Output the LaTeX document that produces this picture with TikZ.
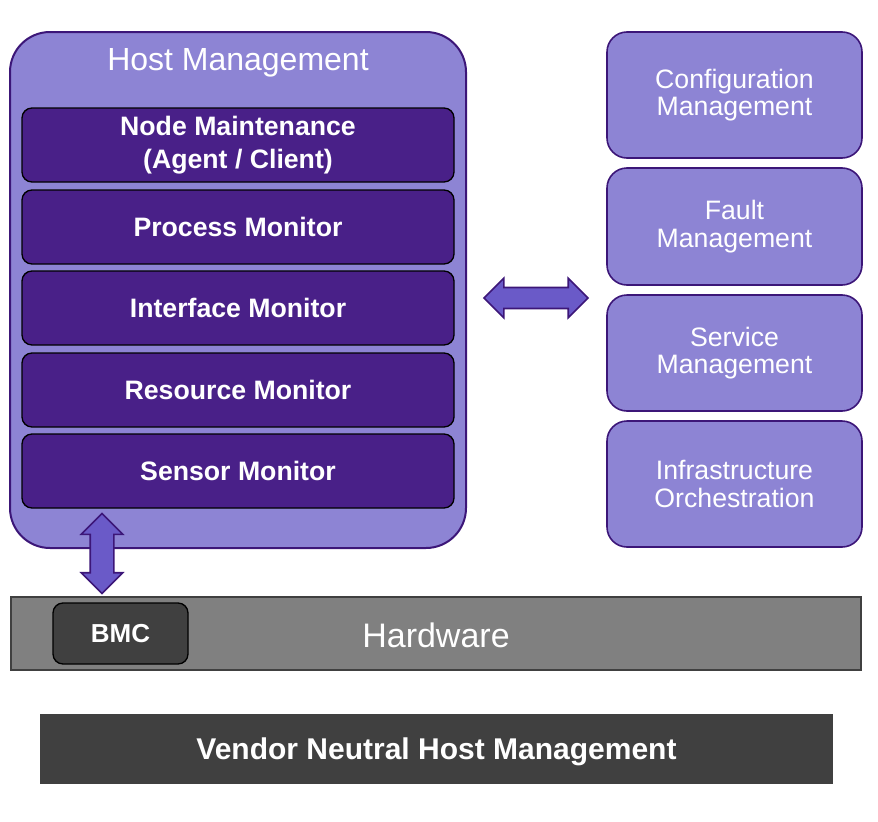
\documentclass[tikz,border=0pt]{standalone}
\usepackage{fontspec}
\setmainfont{Liberation Sans}
\usetikzlibrary{shapes.arrows}
\definecolor{lightpurple}{RGB}{141,132,212}
\definecolor{darkpurple}{RGB}{73,32,136}
\definecolor{edgepurple}{RGB}{60,22,120}
\definecolor{arrowpurple}{RGB}{106,90,200}
\definecolor{hwgrey}{RGB}{128,128,128}
\definecolor{darkgrey}{RGB}{64,64,64}
\begin{document}
\begin{tikzpicture}[x=0.75pt,y=-0.75pt,
  hostbox/.style={draw=edgepurple,line width=1.5pt,fill=lightpurple,rounded corners=30pt,minimum width=342pt,minimum height=387pt,inner sep=0pt},
  monbox/.style={draw=black,line width=1pt,fill=darkpurple,rounded corners=7.5pt,minimum width=324pt,minimum height=55.5pt,text=white,font=\bfseries\fontsize{20}{25}\selectfont,align=center,inner sep=0pt},
  mgmtbox/.style={draw=edgepurple,line width=1.2pt,fill=lightpurple,rounded corners=15pt,minimum width=191.25pt,text=white,font=\fontsize{20}{20.5}\selectfont,align=center,inner sep=0pt},
  dblarrow/.style={double arrow,draw=edgepurple,line width=1.2pt,fill=arrowpurple,double arrow tip angle=90}]
  \useasboundingbox (0,0) rectangle (878,821);
  % host management block
  \node[hostbox] (host) at (238,290) {};
  \node[text=white,font=\fontsize{24}{28}\selectfont] (hosttitle) at (238,63) {Host Management};
  \node[monbox] (nodemaint) at (238,145) {Node Maintenance\\(Agent / Client)};
  \node[monbox] (process) at (238,227) {Process Monitor};
  \node[monbox] (interface) at (238,308) {Interface Monitor};
  \node[monbox] (resource) at (238,390) {Resource Monitor};
  \node[monbox] (sensor) at (238,471) {Sensor Monitor};
  % management functions
  \node[mgmtbox,minimum height=94.5pt] (config) at (734.5,95) {Configuration\\Management};
  \node[mgmtbox,minimum height=87.75pt] (fault) at (734.5,226.5) {Fault\\Management};
  \node[mgmtbox,minimum height=87pt] (service) at (734.5,353) {Service\\Management};
  \node[mgmtbox,minimum height=94.5pt] (infra) at (734.5,484) {Infrastructure\\Orchestration};
  % hardware
  \node[draw=darkgrey,line width=0.8pt,fill=hwgrey,minimum width=637.5pt,minimum height=54.75pt,inner sep=0pt] (hardware) at (436,633.5) {};
  \node[text=white,font=\fontsize{25.5}{30}\selectfont] (hwlabel) at (436,635) {Hardware};
  \node[draw=black,line width=1pt,fill=darkgrey,rounded corners=7.5pt,minimum width=101.25pt,minimum height=45.75pt,text=white,font=\bfseries\fontsize{19.5}{23}\selectfont,inner sep=0pt] (bmc) at (120.5,633.5) {BMC};
  % arrows
  \node[dblarrow,minimum height=78pt,inner sep=7.25pt,double arrow head extend=7pt] (hostarrow) at (536,298) {};
  \node[dblarrow,shape border rotate=90,minimum height=60pt,inner sep=8.25pt,double arrow head extend=6.75pt] (bmcarrow) at (102,553.5) {};
  \node[fill=darkgrey,minimum width=594.75pt,minimum height=52.5pt,text=white,font=\bfseries\fontsize{22.5}{27}\selectfont,text depth=0pt,inner sep=0pt] (vendor) at (436.5,749) {Vendor Neutral Host Management};
\end{tikzpicture}
\end{document}
